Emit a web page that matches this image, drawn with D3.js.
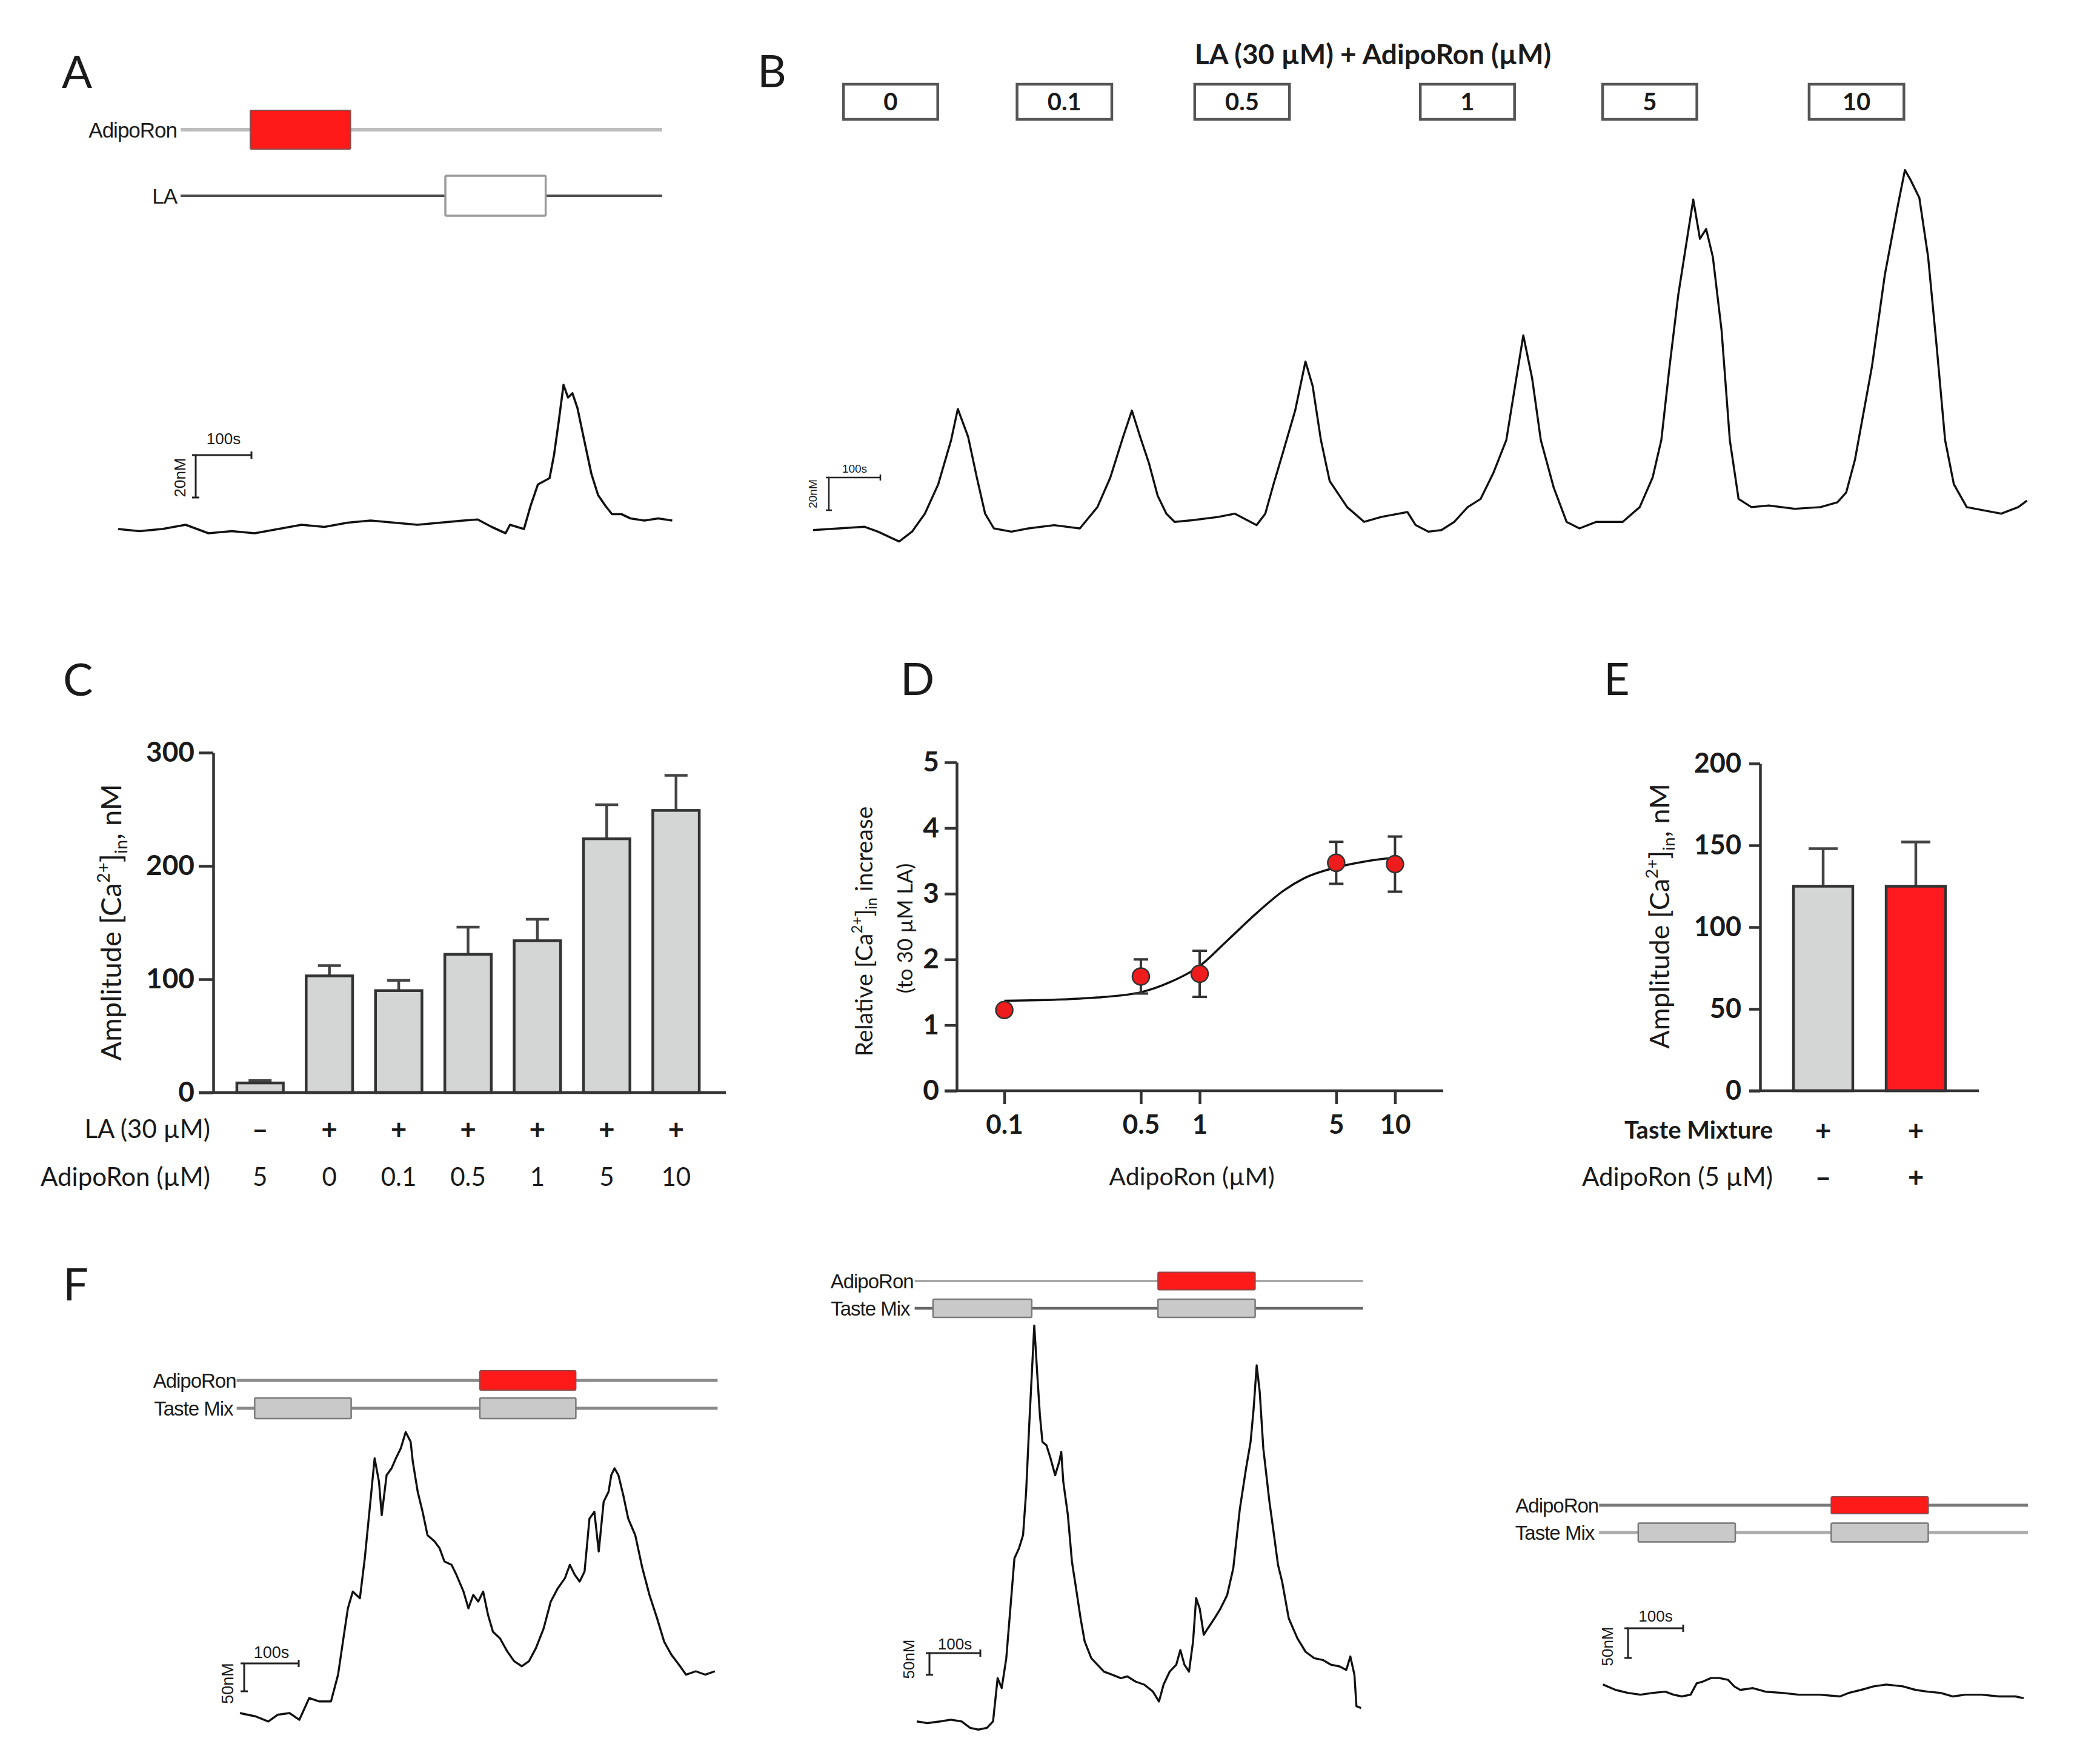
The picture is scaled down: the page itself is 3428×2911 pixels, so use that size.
<!DOCTYPE html>
<html><head><meta charset="utf-8">
<script src="https://cdn.jsdelivr.net/npm/d3@7"></script>
<style>body{margin:0;background:#fff;} svg{display:block;}</style>
</head><body>
<script>
// ================= DATA =================
// Panel A trace (time s, [Ca2+] nM)
const traceA_t = [0,38,79,121,162,204,245,287,329,370,412,453,495,537,578,620,645,670,695,703,728,740,753,774,782,790,799,807,815,824,836,849,861,874,886,903,919,944,969,994];
const traceA_v = [100,99,100,102,98,99,98,100,102,101,103,104,103,102,103,104,104.5,101,98,102,100,111,121,124,135,150,168,162,164,157,142,126,116,111,107,107,105,104,105,104];
const protoA_span = [112, 976];
const protoA_adipo = [[237, 417]];
const protoA_la = [[587, 767]];

// Panel B trace
const traceB_t = [0,50,100,126,167,192,217,243,268,281,301,318,334,351,385,418,468,518,552,577,602,619,635,652,669,686,702,736,786,819,861,878,894,911,936,956,970,986,1003,1037,1070,1103,1154,1170,1195,1220,1245,1271,1296,1321,1346,1363,1379,1396,1413,1438,1463,1488,1521,1572,1605,1630,1647,1663,1680,1697,1709,1722,1734,1747,1764,1780,1797,1822,1856,1906,1956,1989,2006,2023,2056,2081,2106,2120,2131,2148,2165,2182,2198,2215,2240,2274,2307,2340,2357];
const traceB_v = [99,100,101,98,92,98,109,127,154,173,156,131,109,100,98,100,102,100,113,131,156,172,156,140,120,109,104,105,107,109,102,109,127,145,172,202,187,154,129,113,104,107,110,102,98,99,104,113,118,134,154,187,218,192,154,125,104,100,104,104,113,131,154,199,243,277,301,277,283,266,221,154,118,113,114,112,113,116,122,142,199,255,297,319,313,302,266,210,154,127,113,111,109,113,117];
const boxB_labels = ["0", "0.1", "0.5", "1", "5", "10"];
const boxB_start = [59, 396, 741, 1179, 1533, 1934];
const boxB_end = [242, 580, 925, 1362, 1716, 2118];
const titleB = "LA (30 µM) + AdipoRon (µM)";

// Panel C bars
const barC_LA = ["\u2013", "+", "+", "+", "+", "+", "+"];
const barC_adipo = ["5", "0", "0.1", "0.5", "1", "5", "10"];
const barC_mean = [8.5, 103, 90, 122, 134, 224, 249];
const barC_sem = [2, 9, 9, 24, 19, 30, 31];
const ticksC = [0, 100, 200, 300];

// Panel D dose-response
const doseD = [0.1, 0.5, 1, 5, 10];
const meanD = [1.23, 1.74, 1.78, 3.47, 3.45];
const semD = [0.05, 0.26, 0.35, 0.32, 0.42];
const curveD_x = [0.1, 0.2, 0.3, 0.5, 0.7, 1, 1.4, 2, 2.7, 3.4, 5, 7, 10];
const curveD_y = [1.37, 1.39, 1.42, 1.50, 1.65, 1.90, 2.30, 2.73, 3.05, 3.23, 3.40, 3.49, 3.55];
const ticksDx = [0.1, 0.5, 1, 5, 10];
const ticksDy = [0, 1, 2, 3, 4, 5];

// Panel E bars
const barE_taste = ["+", "+"];
const barE_adipo = ["\u2013", "+"];
const barE_mean = [125, 125];
const barE_sem = [23, 27];
const barE_color = ["#d3d6d5", "#ff1a1f"];
const ticksE = [0, 50, 100, 150, 200];

// Panel F traces
const traceF1_t = [0,29,52,69,91,109,127,145,167,180,189,198,207,220,229,238,247,255,260,269,278,286,295,304,313,317,326,335,344,357,366,375,388,397,410,419,428,437,446,455,464,477,490,503,517,530,543,557,570,583,596,605,614,623,632,641,650,658,667,676,681,687,694,703,712,725,738,751,765,778,791,805,818,836,853,871];
const traceF1_v = [100,94,85,97,100,88,127,121,121,169,229,288,318,306,378,467,557,515,455,527,539,557,575,604,587,551,497,461,419,408,396,372,366,348,318,288,312,300,318,276,246,234,211,193,184,193,217,252,300,324,342,366,348,336,354,449,461,390,479,497,527,539,527,491,449,419,360,312,270,228,205,187,169,175,169,175];
const protoF1_span = [-6, 876];
const protoF1_adipo = [[440, 616]];
const protoF1_taste = [[27, 204], [440, 616]];

const traceF2_t = [0,21,46,67,88,105,121,138,150,159,167,176,184,192,201,209,215,221,226,231,237,242,247,255,263,272,280,284,288,297,305,313,322,330,343,355,368,384,401,414,430,447,464,476,485,497,510,518,526,535,543,549,556,564,572,585,597,610,622,635,647,656,662,668,674,681,693,702,710,718,731,748,764,781,798,814,831,844,852,860,864,873];
const traceF2_v = [100,96,100,104,100,85,81,85,100,200,177,246,361,477,500,531,631,784,900,1015,900,808,746,738,708,669,700,723,654,577,469,408,338,285,246,231,215,208,200,204,192,185,169,146,185,215,231,265,231,215,285,385,361,300,315,338,361,392,454,592,684,746,823,923,861,731,608,531,461,423,338,292,261,246,242,231,227,219,250,208,135,131];
const protoF2_span = [-4, 877];
const protoF2_adipo = [[474, 665]];
const protoF2_taste = [[32, 226], [474, 665]];

const traceF3_t = [0,23,45,68,91,113,128,143,159,170,181,196,211,227,238,249,272,295,325,355,393,430,446,468,491,514,544,567,589,612,635,657,687,718,748,763];
const traceF3_v = [106,97,92,89,92,94,89,86,89,108,111,117,117,114,103,97,100,94,92,89,89,86,92,97,103,106,103,97,94,92,86,89,89,86,86,83];
const protoF3_span = [-7, 771];
const protoF3_adipo = [[414, 590]];
const protoF3_taste = [[64, 240], [414, 590]];

// ================= DRAW =================
const W = 3428, H = 2911;
const svg = d3.select("body").append("svg").attr("width", W).attr("height", H)
  .attr("viewBox", `0 0 ${W} ${H}`).style("background", "#fff");
svg.append("rect").attr("width", W).attr("height", H).attr("fill", "#fff");

const FONT = "Lato, 'Open Sans', sans-serif";
const SFONT = "'Liberation Sans', Arial, sans-serif";
const INK = "#1a1a1a";
const AX = "#333";

function panelLetter(t, x, y) {
  svg.append("text").attr("x", x).attr("y", y).text(t)
    .attr("font-family", FONT).attr("font-size", 74).attr("fill", INK);
}

function drawTrace(t, v, x, y, w) {
  const line = d3.line().x(d => x(d[0])).y(d => y(d[1])).curve(d3.curveLinear);
  svg.append("path").datum(d3.zip(t, v)).attr("d", line)
    .attr("fill", "none").attr("stroke", "#111").attr("stroke-width", w || 3.4)
    .attr("stroke-linejoin", "round");
}

function scaleBar(x, y, cx, cy, tLen, vLen, tLab, vLab, o) {
  const hl = x(tLen) - x(0), vl = y(0) - y(vLen);
  const g = svg.append("g").attr("stroke", "#222").attr("stroke-width", o.sw || 3).attr("fill", "none");
  g.append("path").attr("d", `M${cx + hl},${cy}H${cx}V${cy + vl}`);
  const tk = o.tick || 6;
  g.append("path").attr("d", `M${cx + hl},${cy - tk}V${cy + tk}M${cx - tk},${cy + vl}H${cx + tk}M${cx - tk},${cy}H${cx}`);
  svg.append("text").attr("x", cx + hl / 2 + (o.dx || 0)).attr("y", o.tb).attr("text-anchor", "middle")
    .attr("font-family", o.font).attr("font-size", o.fs).attr("fill", INK).text(tLab);
  svg.append("text").attr("transform", `translate(${o.vx},${o.vy}) rotate(-90)`).attr("dy", "0.35em")
    .attr("text-anchor", "middle").attr("font-family", o.font).attr("font-size", o.fs).attr("fill", INK).text(vLab);
}

function protoRow(x, yc, span, boxes, o) {
  const g = svg.append("g");
  g.append("line").attr("x1", x(span[0])).attr("x2", x(span[1])).attr("y1", yc).attr("y2", yc)
    .attr("stroke", o.lineColor).attr("stroke-width", o.lw);
  g.selectAll("rect").data(boxes).join("rect")
    .attr("x", d => x(d[0])).attr("width", d => x(d[1]) - x(d[0]))
    .attr("y", yc - o.h / 2).attr("height", o.h)
    .attr("fill", o.fill).attr("stroke", o.stroke).attr("stroke-width", o.sw).attr("rx", 2);
  g.append("text").attr("x", x(span[0]) - (o.gap || 3)).attr("y", yc).attr("dy", "0.36em")
    .attr("text-anchor", "end").attr("font-family", SFONT).attr("font-size", o.fs || 33)
    .attr("letter-spacing", o.ls || -1).attr("fill", INK).text(o.label);
}

function caText(sel, pre, post, fs) {
  sel.append("tspan").text(pre + "[Ca");
  sel.append("tspan").attr("font-size", fs * 0.62).attr("dy", -fs * 0.42).text("2+");
  sel.append("tspan").attr("dy", fs * 0.42).text("]");
  sel.append("tspan").attr("font-size", fs * 0.62).attr("dy", fs * 0.2).text("in");
  sel.append("tspan").attr("dy", -fs * 0.2).text(post);
}

// ---------- Panel A ----------
panelLetter("A", 102, 145);
const xA = d3.scaleLinear().domain([0, 1000]).range([195, 195 + 920]);
const yA = d3.scaleLinear().domain([100, 200]).range([873, 873 - 350]);
protoRow(xA, 214, protoA_span, protoA_adipo, {lineColor: "#bdbdbd", lw: 6, h: 64, fill: "#ff1a1a", stroke: "#8a4b4b", sw: 2, label: "AdipoRon", gap: 6, fs: 35});
protoRow(xA, 323, protoA_span, protoA_la, {lineColor: "#4d4d4d", lw: 4, h: 66, fill: "#fff", stroke: "#9a9a9a", sw: 3.5, label: "LA", gap: 6, fs: 35});
drawTrace(traceA_t, traceA_v, xA, yA, 3.6);
scaleBar(xA, yA, 323, 751, 100, 20, "100s", "20nM", {font: SFONT, fs: 26, tb: 733, vx: 297, vy: 788, sw: 3});

// ---------- Panel B ----------
panelLetter("B", 1250, 144);
const xB = d3.scaleLinear().domain([0, 2357]).range([1342, 1342 + 0.85 * 2357]);
const yB = d3.scaleLinear().domain([100, 200]).range([872, 872 - 270]);
svg.append("text").attr("x", 2266).attr("y", 106).attr("text-anchor", "middle")
  .attr("font-family", FONT).attr("font-weight", 700).attr("font-size", 46).attr("fill", INK).text(titleB);
const gB = svg.append("g");
const boxB = d3.zip(boxB_start, boxB_end, boxB_labels);
gB.selectAll("rect").data(boxB).join("rect")
  .attr("x", d => xB(d[0])).attr("width", d => xB(d[1]) - xB(d[0]))
  .attr("y", 139).attr("height", 58).attr("fill", "#fff").attr("stroke", "#555").attr("stroke-width", 4.5);
gB.selectAll("text").data(boxB).join("text")
  .attr("x", d => (xB(d[0]) + xB(d[1])) / 2).attr("y", 168).attr("dy", "0.36em").attr("text-anchor", "middle")
  .attr("font-family", FONT).attr("font-weight", 700).attr("font-size", 40).attr("fill", INK).text(d => d[2]);
drawTrace(traceB_t, traceB_v, xB, yB, 3.4);
scaleBar(xB, yB, 1368, 788, 100, 20, "100s", "20nM", {font: SFONT, fs: 19, tb: 780, vx: 1341, vy: 815, sw: 2.5, tick: 5});

// ---------- Panel C ----------
panelLetter("C", 104, 1148);
const xC = d3.scaleBand().domain(d3.range(barC_mean.length)).range([352, 1193]).paddingInner(0.33).paddingOuter(0.34);
const yC = d3.scaleLinear().domain([0, 300]).range([1803, 1242]);
const gC = svg.append("g");
gC.selectAll("path.err").data(barC_mean.map((m, i) => [i, m, barC_sem[i]])).join("path").attr("class", "err")
  .attr("d", d => { const cx = xC(d[0]) + xC.bandwidth() / 2, yt = yC(d[1] + d[2]);
    return `M${cx},${yC(d[1])}V${yt}M${cx - 19},${yt}H${cx + 19}`; })
  .attr("stroke", "#444").attr("stroke-width", 4.5).attr("fill", "none");
gC.selectAll("rect").data(barC_mean).join("rect")
  .attr("x", (d, i) => xC(i)).attr("width", xC.bandwidth())
  .attr("y", d => yC(d)).attr("height", d => yC(0) - yC(d))
  .attr("fill", "#d3d6d5").attr("stroke", "#333").attr("stroke-width", 4.5);
const axC = svg.append("g").attr("transform", "translate(352,0)")
  .call(d3.axisLeft(yC).tickValues(ticksC).tickSize(24).tickSizeOuter(0).tickPadding(7));
axC.selectAll("path,line").attr("stroke", AX).attr("stroke-width", 4.5);
axC.selectAll("text").attr("font-family", FONT).attr("font-weight", 700).attr("font-size", 46).attr("fill", INK);
svg.append("line").attr("x1", 328).attr("x2", 1198).attr("y1", yC(0)).attr("y2", yC(0)).attr("stroke", AX).attr("stroke-width", 4.5);
const ylC = svg.append("text").attr("transform", "translate(184,1522) rotate(-90)").attr("dy", "0.35em")
  .attr("text-anchor", "middle").attr("font-family", FONT).attr("font-size", 47).attr("fill", INK);
caText(ylC, "Amplitude ", ", nM", 47);
function rowLabels(labels, xs, y, o) {
  svg.append("g").selectAll("text").data(labels).join("text")
    .attr("x", (d, i) => xs(i)).attr("y", y).attr("dy", "0.36em").attr("text-anchor", "middle")
    .attr("font-family", FONT).attr("font-weight", o.fw || 700).attr("font-size", o.fs || 44).attr("fill", INK).text(d => d);
}
const cC = i => xC(i) + xC.bandwidth() / 2;
rowLabels(barC_LA, cC, 1863, {fw: 700, fs: 46});
rowLabels(barC_adipo, cC, 1942, {fw: 400, fs: 42});
svg.append("text").attr("x", 347).attr("y", 1863).attr("dy", "0.36em").attr("text-anchor", "end")
  .attr("font-family", FONT).attr("font-size", 42).attr("fill", INK).text("LA (30 µM)");
svg.append("text").attr("x", 347).attr("y", 1942).attr("dy", "0.36em").attr("text-anchor", "end")
  .attr("font-family", FONT).attr("font-size", 42).attr("fill", INK).text("AdipoRon (µM)");

// ---------- Panel D ----------
panelLetter("D", 1486, 1147);
const xD = d3.scaleLog().domain([0.1, 10]).range([1657.6, 2302.4]);
const yD = d3.scaleLinear().domain([0, 5]).range([1800, 1258]);
const axDy = svg.append("g").attr("transform", "translate(1579,0)")
  .call(d3.axisLeft(yD).tickValues(ticksDy).tickFormat(d3.format("d")).tickSize(20).tickSizeOuter(0).tickPadding(9));
axDy.selectAll("path,line").attr("stroke", AX).attr("stroke-width", 4.5);
axDy.selectAll("text").attr("font-family", FONT).attr("font-weight", 700).attr("font-size", 46).attr("fill", INK);
const axDx = svg.append("g").attr("transform", "translate(0,1800)")
  .call(d3.axisBottom(xD).tickValues(ticksDx).tickFormat(d => String(d)).tickSize(22).tickPadding(18));
axDx.select(".domain").remove();
axDx.selectAll("line").attr("stroke", AX).attr("stroke-width", 4.5);
axDx.selectAll("text").attr("font-family", FONT).attr("font-weight", 700).attr("font-size", 44).attr("fill", INK);
svg.append("line").attr("x1", 1559).attr("x2", 2382).attr("y1", 1800).attr("y2", 1800).attr("stroke", AX).attr("stroke-width", 4.5);
svg.append("path").datum(d3.zip(curveD_x, curveD_y))
  .attr("d", d3.line().x(d => xD(d[0])).y(d => yD(d[1])).curve(d3.curveMonotoneX))
  .attr("fill", "none").attr("stroke", "#111").attr("stroke-width", 3.5);
const ptsD = d3.zip(doseD, meanD, semD);
svg.append("g").selectAll("path").data(ptsD).join("path")
  .attr("d", d => { const cx = xD(d[0]), y1 = yD(d[1] + d[2]), y2 = yD(d[1] - d[2]);
    return `M${cx},${y1}V${y2}M${cx - 12},${y1}H${cx + 12}M${cx - 12},${y2}H${cx + 12}`; })
  .attr("stroke", "#333").attr("stroke-width", 4).attr("fill", "none");
svg.append("g").selectAll("circle").data(ptsD).join("circle")
  .attr("cx", d => xD(d[0])).attr("cy", d => yD(d[1])).attr("r", 14)
  .attr("fill", "#ee1c1c").attr("stroke", "#333").attr("stroke-width", 2.5);
const ylD1 = svg.append("text").attr("transform", "translate(1426,1537) rotate(-90)").attr("dy", "0.35em")
  .attr("text-anchor", "middle").attr("font-family", FONT).attr("font-size", 39).attr("fill", INK);
caText(ylD1, "Relative ", " increase", 39);
svg.append("text").attr("transform", "translate(1494,1532) rotate(-90)").attr("dy", "0.35em")
  .attr("text-anchor", "middle").attr("font-family", FONT).attr("font-size", 35).attr("fill", INK).text("(to 30 µM LA)");
svg.append("text").attr("x", 1967).attr("y", 1941).attr("dy", "0.36em").attr("text-anchor", "middle")
  .attr("font-family", FONT).attr("font-size", 41).attr("fill", INK).text("AdipoRon (µM)");

// ---------- Panel E ----------
panelLetter("E", 2647, 1147);
const xE = d3.scaleBand().domain(d3.range(barE_mean.length)).range([2905, 3266]).padding(0.36);
const yE = d3.scaleLinear().domain([0, 200]).range([1800, 1260]);
svg.append("g").selectAll("path").data(barE_mean.map((m, i) => [i, m, barE_sem[i]])).join("path")
  .attr("d", d => { const cx = xE(d[0]) + xE.bandwidth() / 2, yt = yE(d[1] + d[2]);
    return `M${cx},${yE(d[1])}V${yt}M${cx - 24},${yt}H${cx + 24}`; })
  .attr("stroke", "#444").attr("stroke-width", 4.5).attr("fill", "none");
svg.append("g").selectAll("rect").data(barE_mean).join("rect")
  .attr("x", (d, i) => xE(i)).attr("width", xE.bandwidth())
  .attr("y", d => yE(d)).attr("height", d => yE(0) - yE(d))
  .attr("fill", (d, i) => barE_color[i]).attr("stroke", "#333").attr("stroke-width", 4.5);
const axE = svg.append("g").attr("transform", "translate(2905,0)")
  .call(d3.axisLeft(yE).tickValues(ticksE).tickSize(18).tickSizeOuter(0).tickPadding(13));
axE.selectAll("path,line").attr("stroke", AX).attr("stroke-width", 4.5);
axE.selectAll("text").attr("font-family", FONT).attr("font-weight", 700).attr("font-size", 45).attr("fill", INK);
svg.append("line").attr("x1", 2887).attr("x2", 3266).attr("y1", 1800).attr("y2", 1800).attr("stroke", AX).attr("stroke-width", 4.5);
const ylE = svg.append("text").attr("transform", "translate(2739,1512) rotate(-90)").attr("dy", "0.35em")
  .attr("text-anchor", "middle").attr("font-family", FONT).attr("font-size", 45).attr("fill", INK);
caText(ylE, "Amplitude ", ", nM", 45);
const cE = i => xE(i) + xE.bandwidth() / 2;
rowLabels(barE_taste, cE, 1865, {fw: 700, fs: 46});
rowLabels(barE_adipo, cE, 1942, {fw: 700, fs: 46});
svg.append("text").attr("x", 2926).attr("y", 1865).attr("dy", "0.36em").attr("text-anchor", "end")
  .attr("font-family", FONT).attr("font-weight", 700).attr("font-size", 40).attr("fill", INK).text("Taste Mixture");
svg.append("text").attr("x", 2926).attr("y", 1942).attr("dy", "0.36em").attr("text-anchor", "end")
  .attr("font-family", FONT).attr("font-size", 42).attr("fill", INK).text("AdipoRon (5 µM)");

// ---------- Panel F ----------
panelLetter("F", 104, 2146);
// F1
const xF1 = d3.scaleLinear().domain([0, 871]).range([396, 396 + 0.9 * 871]);
const yF1 = d3.scaleLinear().domain([100, 200]).range([2827, 2827 - 92]);
protoRow(xF1, 2278, protoF1_span, protoF1_adipo, {lineColor: "#8a8a8a", lw: 5, h: 32, fill: "#ff1a1a", stroke: "#8a4b4b", sw: 2, label: "AdipoRon", gap: 1});
protoRow(xF1, 2324, protoF1_span, protoF1_taste, {lineColor: "#8a8a8a", lw: 5, h: 34, fill: "#c9c9c9", stroke: "#7a7a7a", sw: 2.5, label: "Taste Mix", gap: 6});
drawTrace(traceF1_t, traceF1_v, xF1, yF1, 3.4);
scaleBar(xF1, yF1, 403, 2745, 100, 50, "100s", "50nM", {font: SFONT, fs: 27, tb: 2736, vx: 376, vy: 2778, sw: 3});
// F2
const xF2 = d3.scaleLinear().domain([0, 873]).range([1513, 1513 + 0.84 * 873]);
const yF2 = d3.scaleLinear().domain([100, 200]).range([2840.7, 2840.7 - 71.4]);
protoRow(xF2, 2114, protoF2_span, protoF2_adipo, {lineColor: "#a8a8a8", lw: 4, h: 29, fill: "#ff1a1a", stroke: "#8a4b4b", sw: 2, label: "AdipoRon", gap: 2});
protoRow(xF2, 2159, protoF2_span, protoF2_taste, {lineColor: "#666", lw: 4.5, h: 30, fill: "#c9c9c9", stroke: "#7a7a7a", sw: 2.5, label: "Taste Mix", gap: 8});
drawTrace(traceF2_t, traceF2_v, xF2, yF2, 3.4);
scaleBar(xF2, yF2, 1534, 2728, 100, 50, "100s", "50nM", {font: SFONT, fs: 26, tb: 2722, vx: 1500, vy: 2738, sw: 3});
// F3
const xF3 = d3.scaleLinear().domain([0, 763]).range([2645.6, 2645.6 + 0.91 * 763]);
const yF3 = d3.scaleLinear().domain([100, 200]).range([2785.8, 2785.8 - 98]);
protoRow(xF3, 2484, protoF3_span, protoF3_adipo, {lineColor: "#7a7a7a", lw: 5, h: 28, fill: "#ff1a1a", stroke: "#8a4b4b", sw: 2, label: "AdipoRon", gap: 1});
protoRow(xF3, 2529, protoF3_span, protoF3_taste, {lineColor: "#ababab", lw: 5, h: 31, fill: "#c9c9c9", stroke: "#7a7a7a", sw: 2.5, label: "Taste Mix", gap: 8});
drawTrace(traceF3_t, traceF3_v, xF3, yF3, 3.4);
scaleBar(xF3, yF3, 2687, 2687, 100, 50, "100s", "50nM", {font: SFONT, fs: 26, tb: 2676, vx: 2653, vy: 2717, sw: 3});
</script>
</body></html>
